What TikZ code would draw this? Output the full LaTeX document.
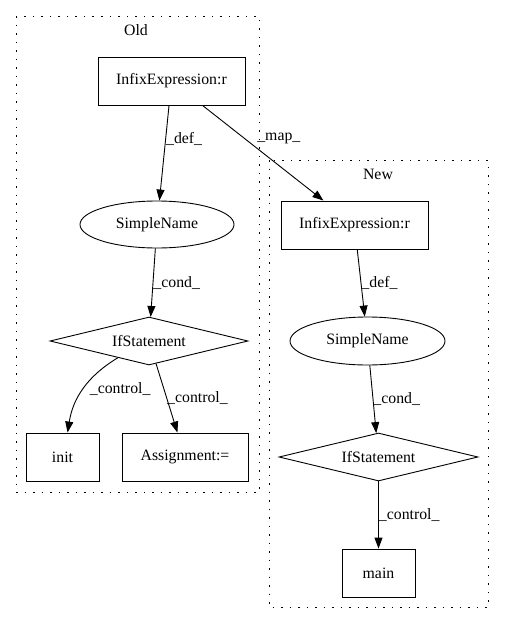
\documentclass[tikz,border=0pt]{standalone}
\usepackage{fontspec}
\setmainfont{Liberation Serif}
\usetikzlibrary{shapes,
	arrows.meta,
	positioning}

\begin{document}
\begin{tikzpicture}[x=1pt, y=-1pt, line width=0.9pt,
        font=\fontsize{15.8}{18}\selectfont,
        box/.style={draw, rectangle, minimum height=48pt, inner sep=0pt},
        oval/.style={draw, ellipse, minimum width=154pt, minimum height=47pt, inner sep=0pt},
        cond/.style={draw, diamond, aspect=4, minimum width=198pt, minimum height=48pt, inner sep=0pt},
        edge/.style={-{Triangle[length=11pt, width=8pt]}},
        lbl/.style={anchor=west, inner sep=0pt},
        cluster/.style={dash pattern=on 1.5pt off 7pt}]
            \useasboundingbox (0, 0) rectangle (504, 624);

            \begin{scope}
                \draw[cluster] (16, 16) rectangle (259, 492);
                \node (oldlbl) at (136, 30) {Old};
                \node[box, minimum width=147pt] (oldinfix) at (171.5, 81) {InfixExpression:r};
                \node[oval] (oldname) at (157, 224.5) {SimpleName};
                \node[cond] (oldif) at (149, 341) {IfStatement};
                \node[box, minimum width=73pt] (init) at (62.5, 457) {init};
                \node[box, minimum width=126pt] (assign) at (185, 457) {Assignment:=};
            \end{scope}

            \begin{scope}
                \draw[cluster] (269, 160) rectangle (488, 607);
                \node (newlbl) at (378, 174) {New};
                \node[box, minimum width=147pt] (newinfix) at (354.5, 225) {InfixExpression:r};
                \node[oval, minimum width=155pt, minimum height=48pt] (newname) at (367.5, 341) {SimpleName};
                \node[cond, minimum width=199pt] (newif) at (378.5, 457) {IfStatement};
                \node[box, minimum width=73pt] (main) at (378.5, 573) {main};
            \end{scope}

            \draw[edge] (oldinfix) -- node[lbl, pos=0.35] {\_def\_} (oldname);
            \draw[edge] (oldinfix) -- node[lbl, pos=0.35, xshift=12pt] {\_map\_} (newinfix);
            \draw[edge] (oldname) -- node[lbl, pos=0.5] {\_cond\_} (oldif);
            \draw[edge] (oldif) to[bend right=25] node[lbl, pos=0.5, xshift=6pt] {\_control\_} (init);
            \draw[edge] (oldif) -- node[lbl, pos=0.5] {\_control\_} (assign);

            \draw[edge] (newinfix) -- node[lbl, pos=0.5] {\_def\_} (newname);
            \draw[edge] (newname) -- node[lbl, pos=0.5] {\_cond\_} (newif);
            \draw[edge] (newif) -- node[lbl, pos=0.5] {\_control\_} (main);
\end{tikzpicture}
\end{document}
